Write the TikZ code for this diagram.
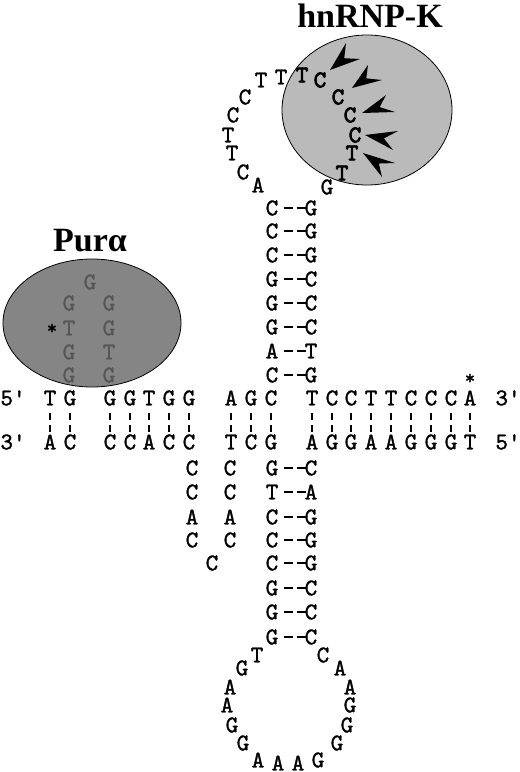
\documentclass[tikz,border=0pt]{standalone}
\usepackage{fontspec}
\newfontfamily\titlef{Liberation Serif}
\newfontfamily\nucf[FakeBold=1.3]{lmmono10-regular.otf}
\newfontfamily\nucbf[FakeBold=3.2]{lmmono10-regular.otf}
\usetikzlibrary{calc}
\tikzset{
  nuc/.style={inner sep=0pt, font=\nucf\fontsize{24}{24}\selectfont},
  nucb/.style={inner sep=0pt, font=\nucbf\fontsize{24}{24}\selectfont},
  pnuc/.style={nuc, text=black!66},
  star/.style={inner sep=0pt, font=\nucf\fontsize{20}{20}\selectfont},
  ttl/.style={inner sep=0pt, font=\titlef\bfseries\fontsize{34}{34}\selectfont},
  barline/.style={line width=1.4pt, dash pattern=on 0pt off 15pt on 7pt off 5pt on 7pt off 60pt},
  bond/.style={line width=1.4pt, dash pattern=on 0pt off 11.5pt on 9pt off 4pt on 9pt off 60pt},
}
\newcommand\HKarrow[6]{%
  \coordinate (ahT) at (#1,#2); \coordinate (ahA) at (#3,#4); \coordinate (ahB) at (#5,#6);
  \coordinate (ahM) at ($(ahA)!0.5!(ahB)$);
  \coordinate (ahN) at ($(ahT)!0.62!(ahM)$);
  \fill[black] (ahT) -- (ahA) -- (ahN) -- (ahB) -- cycle;}
\begin{document}
\begin{tikzpicture}[x=1pt,y=-1pt]
\useasboundingbox (0,0) rectangle (520,772);
% protein ellipses
\fill[black!27] (367,110) ellipse [x radius=85pt, y radius=75pt];
\draw[line width=0.8pt] (367,110) ellipse [x radius=85pt, y radius=75pt];
\shadedraw[line width=0.8pt, left color=black!48, middle color=black!37, right color=black!48] (92,323) ellipse [x radius=89pt, y radius=64pt];
% titles
\node[ttl] (hnk) at (370,16) {hnRNP-K};
\node[ttl] (pur) at (90,241) {Purα};
% duplex rows
\foreach \n/\x/\l in {1/50/T,2/70/G,3/110/G,4/130/G,5/149/T,6/169/G,7/189/G,8/231/A,9/251/G,10/271/C,11/312/T,12/332/C,13/351/C,14/371/T,15/391/T,16/411/C,17/431/C,18/451/C,19/470/A}
  \node[nuc] (t\n) at (\x,398) {\l};
\foreach \n/\x/\l in {1/50/A,2/70/C,3/110/C,4/130/C,5/149/A,6/169/C,7/189/C,8/231/T,9/251/C,10/271/G,11/312/A,12/332/G,13/351/G,14/371/A,15/391/A,16/411/G,17/431/G,18/451/G,19/470/T}
  \node[nuc] (b\n) at (\x,442) {\l};
\foreach \n in {1,...,19}
  \draw[barline] (t\n.center) -- (b\n.center);
\node[nuc] (five1) at (13,398) {5'};
\node[nuc] (three1) at (13,442) {3'};
\node[nuc] (three2) at (508,398) {3'};
\node[nuc] (five2) at (508,442) {5'};
\node[star] (astA) at (470,379) {*};
% upper stem
\foreach \n/\y/\a/\b in {1/208/C/G,2/231/C/G,3/255/C/G,4/279/G/C,5/303/G/C,6/327/G/C,7/351/A/T,8/375/C/G}{
  \node[nuc] (sL\n) at (272,\y) {\a};
  \node[nuc] (sR\n) at (311,\y) {\b};
  \draw[bond] (sL\n.center) -- (sR\n.center);
}
% upper loop
\foreach \n/\x/\y/\l in {1/258/185/A,2/243/172/C,3/232/153/T,4/228/135/T,5/233/115/C,6/245/97/C,7/261/80/T,8/281/77/T,16/327/187/G}
  \node[nuc] (u\n) at (\x,\y) {\l};
\foreach \n/\x/\y/\l in {9/302/75/T,10/320/80/C,11/338/97/C,12/350/115/C,13/355/135/C,14/352/153/T,15/342/173/T}
  \node[nucb] (u\n) at (\x,\y) {\l};
% arrowheads
\HKarrow{330}{70}{346}{43}{360}{59}
\HKarrow{352}{88}{368}{65}{382}{80}
\HKarrow{362}{113}{386}{95}{395}{112}
\HKarrow{365}{135}{398}{131}{393}{150}
\HKarrow{363}{153}{395}{163}{382}{177}
% lower stem
\foreach \n/\y/\a/\b in {1/468/G/C,2/492/T/A,3/517/C/G,4/540/C/G,5/563/C/G,6/588/G/C,7/612/G/C,8/637/G/C}{
  \node[nuc] (rL\n) at (272,\y) {\a};
  \node[nuc] (rR\n) at (311,\y) {\b};
  \draw[bond] (rL\n.center) -- (rR\n.center);
}
% lower loop
\foreach \n/\x/\y/\l in {1/257/655/T,2/242/668/G,3/230/687/A,4/227/705/A,5/232/725/G,6/243/743/G,7/258/760/A,8/278/763/A,9/298/763/A,10/318/760/G,11/337/743/G,12/347/725/G,13/350/705/G,14/350/687/A,15/340/668/A,16/323/655/C}
  \node[nuc] (w\n) at (\x,\y) {\l};
% left branch
\foreach \n/\x/\y/\l in {1/192/468/C,2/192/492/C,3/192/517/A,4/192/540/C,5/212/563/C,6/230/540/C,7/230/517/A,8/230/492/C,9/230/468/C}
  \node[nuc] (k\n) at (\x,\y) {\l};
% Pur-alpha loop
\foreach \n/\x/\y/\l in {1/90/282/G,2/69/303/G,3/69/328/T,4/69/352/G,5/69/375/G,6/109/303/G,7/109/328/G,8/109/352/T,9/109/375/G}
  \node[pnuc] (g\n) at (\x,\y) {\l};
\node[star] (astP) at (52,329) {*};
\end{tikzpicture}
\end{document}
